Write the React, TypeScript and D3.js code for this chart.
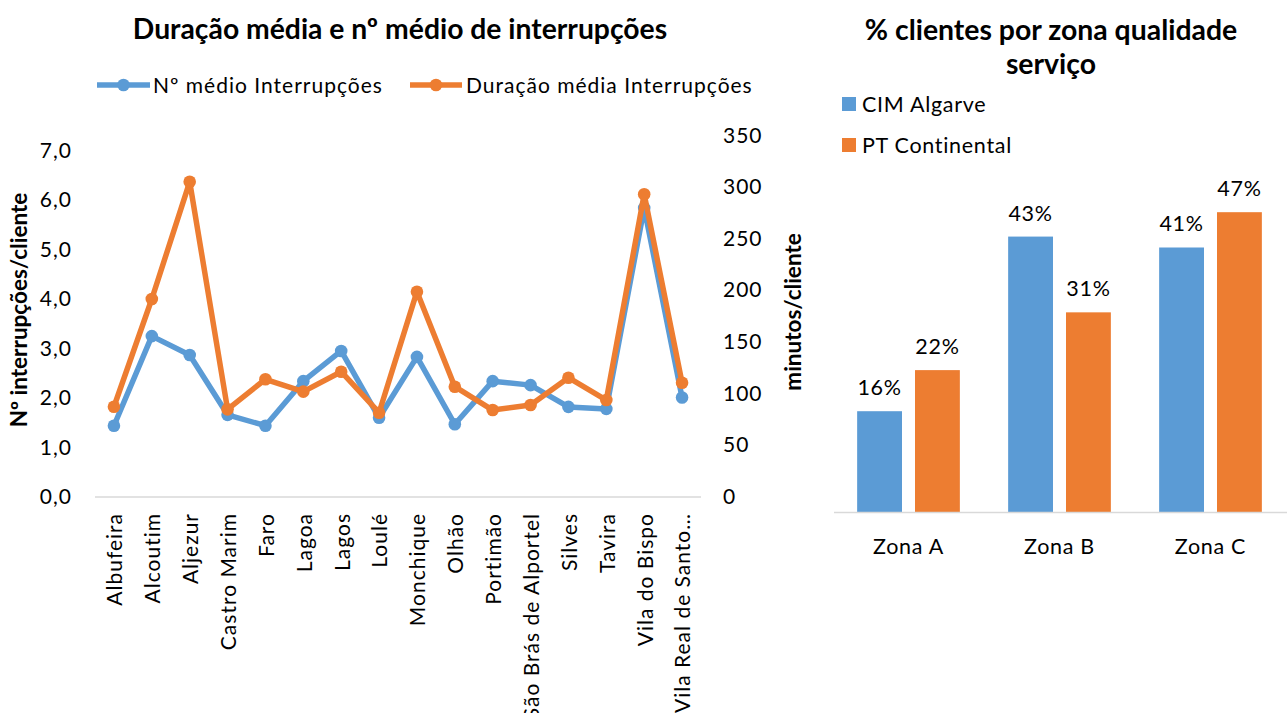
import React from "react";
import * as d3 from "d3";

const municipios = [
  "Albufeira", "Alcoutim", "Aljezur", "Castro Marim", "Faro", "Lagoa", "Lagos", "Loulé",
  "Monchique", "Olhão", "Portimão", "São Brás de Alportel", "Silves", "Tavira", "Vila do Bispo",
  "Vila Real de Santo…",
];
const nMedioInterrupcoes = [1.43, 3.24, 2.86, 1.65, 1.43, 2.33, 2.94, 1.59, 2.82, 1.46, 2.33, 2.25, 1.81, 1.77, 5.83, 2.0];
const duracaoMedia = [86.9, 191.2, 304.7, 84.4, 113.5, 101.5, 120.8, 81.1, 198.3, 106.3, 83.7, 88.6, 115.0, 93.4, 292.6, 110.2];
const leftTicks = [0, 1, 2, 3, 4, 5, 6, 7];
const rightTicks = [0, 50, 100, 150, 200, 250, 300, 350];

const zonas = ["Zona A", "Zona B", "Zona C"];
const cimAlgarve = [15.7, 42.9, 41.2];
const ptContinental = [22.1, 31.1, 46.7];
const barSeries = ["CIM Algarve", "PT Continental"];

const BLUE = "#5B9BD5";
const ORANGE = "#ED7D31";
const FONT = "Lato, 'Open Sans', sans-serif";

export default function App() {
  // Left chart scales
  const x = d3.scalePoint<string>().domain(municipios).range([95, 701]).padding(0.5);
  const yL = d3.scaleLinear().domain([0, 7]).range([496.5, 150]);
  const yR = d3.scaleLinear().domain([0, 350]).range([496.5, 135]);
  const fmt = (v: number) => v.toFixed(1).replace(".", ",");

  const lineL = d3
    .line<number>()
    .x((_, i) => x(municipios[i]) as number)
    .y((d) => yL(d));
  const lineR = d3
    .line<number>()
    .x((_, i) => x(municipios[i]) as number)
    .y((d) => yR(d));

  // Right chart scales
  const x0 = d3.scaleBand<string>().domain(zonas).range([833, 1286]);
  const groupW = 102.7;
  const x1 = d3
    .scaleBand<string>()
    .domain(barSeries)
    .range([(x0.bandwidth() - groupW) / 2, (x0.bandwidth() + groupW) / 2])
    .paddingInner(0.225);
  const yB = d3.scaleLinear().domain([0, 50]).range([512, 191]);
  const barData = [cimAlgarve, ptContinental];
  const barColors = [BLUE, ORANGE];

  const LS = 1; // letter spacing left chart
  const RS = 0.7; // letter spacing right chart

  return (
    <svg
      width={1287}
      height={713}
      style={{ position: "absolute", left: 0, top: 0, background: "#fff" }}
      fontFamily={FONT}
    >
      <rect width={1287} height={713} fill="#fff" />
      {/* LEFT CHART */}
      <text x={400} y={39} textAnchor="middle" fontSize={28.3} fontWeight="bold" fill="#000">
        Duração média e nº médio de interrupções
      </text>
      {/* legend */}
      <g>
        <line x1={97} x2={150} y1={85} y2={85} stroke={BLUE} strokeWidth={5.5} />
        <circle cx={123.5} cy={85} r={6.3} fill={BLUE} />
        <text x={153} y={92.5} fontSize={21} letterSpacing={LS} fill="#000">Nº médio Interrupções</text>
        <line x1={410} x2={462} y1={85} y2={85} stroke={ORANGE} strokeWidth={5.5} />
        <circle cx={436} cy={85} r={6.3} fill={ORANGE} />
        <text x={466} y={92.5} fontSize={21} letterSpacing={LS} fill="#000">Duração média Interrupções</text>
      </g>
      {/* x axis line */}
      <line x1={95} x2={701} y1={497} y2={497} stroke="#d9d9d9" strokeWidth={1.3} />
      {/* left ticks */}
      {leftTicks.map((t) => (
        <text key={"l" + t} x={72} y={yL(t)} dy="0.36em" textAnchor="end" fontSize={21} letterSpacing={LS} fill="#000">
          {fmt(t)}
        </text>
      ))}
      {/* right ticks */}
      {rightTicks.map((t) => (
        <text key={"r" + t} x={723} y={yR(t)} dy="0.36em" textAnchor="start" fontSize={21} letterSpacing={LS} fill="#000">
          {t}
        </text>
      ))}
      {/* axis titles */}
      <text
        transform="translate(27,310) rotate(-90)"
        textAnchor="middle"
        fontSize={22.5}
        fontWeight="bold"
        fill="#000"
      >
        Nº interrupções/cliente
      </text>
      <text
        transform="translate(801,312) rotate(-90)"
        textAnchor="middle"
        fontSize={22.5}
        fontWeight="bold"
        fill="#000"
      >
        minutos/cliente
      </text>
      {/* category labels */}
      {municipios.map((m) => (
        <text
          key={m}
          transform={`translate(${(x(m) as number) + 1},513) rotate(-90)`}
          textAnchor="end"
          dy="0.35em"
          fontSize={21}
          letterSpacing={LS}
          fill="#000"
        >
          {m}
        </text>
      ))}
      {/* lines */}
      <path d={lineL(nMedioInterrupcoes) || ""} fill="none" stroke={BLUE} strokeWidth={5.5} strokeLinejoin="round" />
      {nMedioInterrupcoes.map((v, i) => (
        <circle key={"b" + i} cx={x(municipios[i]) as number} cy={yL(v)} r={6.3} fill={BLUE} />
      ))}
      <path d={lineR(duracaoMedia) || ""} fill="none" stroke={ORANGE} strokeWidth={5.5} strokeLinejoin="round" />
      {duracaoMedia.map((v, i) => (
        <circle key={"o" + i} cx={x(municipios[i]) as number} cy={yR(v)} r={6.3} fill={ORANGE} />
      ))}

      {/* RIGHT CHART */}
      <text x={1051} y={40} textAnchor="middle" fontSize={28.4} fontWeight="bold" fill="#000">
        % clientes por zona qualidade
      </text>
      <text x={1051} y={74} textAnchor="middle" fontSize={28.4} fontWeight="bold" fill="#000">
        serviço
      </text>
      {barSeries.map((s, i) => (
        <g key={s}>
          <rect x={842} y={97 + i * 41} width={14} height={14} fill={barColors[i]} />
          <text x={862} y={111.5 + i * 41} fontSize={21.5} letterSpacing={RS} fill="#000">
            {s}
          </text>
        </g>
      ))}
      {zonas.map((z, zi) => (
        <g key={z} transform={`translate(${x0(z)},0)`}>
          {barSeries.map((s, si) => {
            const v = barData[si][zi];
            const bx = x1(s) as number;
            return (
              <g key={s}>
                <rect x={bx} y={yB(v)} width={x1.bandwidth()} height={yB(0) - yB(v)} fill={barColors[si]} />
                <text
                  x={bx + x1.bandwidth() / 2}
                  y={yB(v) - 16}
                  textAnchor="middle"
                  fontSize={21.5}
                  letterSpacing={RS}
                  fill="#000"
                >
                  {Math.round(v)}%
                </text>
              </g>
            );
          })}
          <text x={x0.bandwidth() / 2} y={553.5} textAnchor="middle" fontSize={21.5} letterSpacing={RS} fill="#000">
            {z}
          </text>
        </g>
      ))}
      <line x1={834} x2={1287} y1={512.5} y2={512.5} stroke="#d9d9d9" strokeWidth={1.3} />
    </svg>
  );
}
